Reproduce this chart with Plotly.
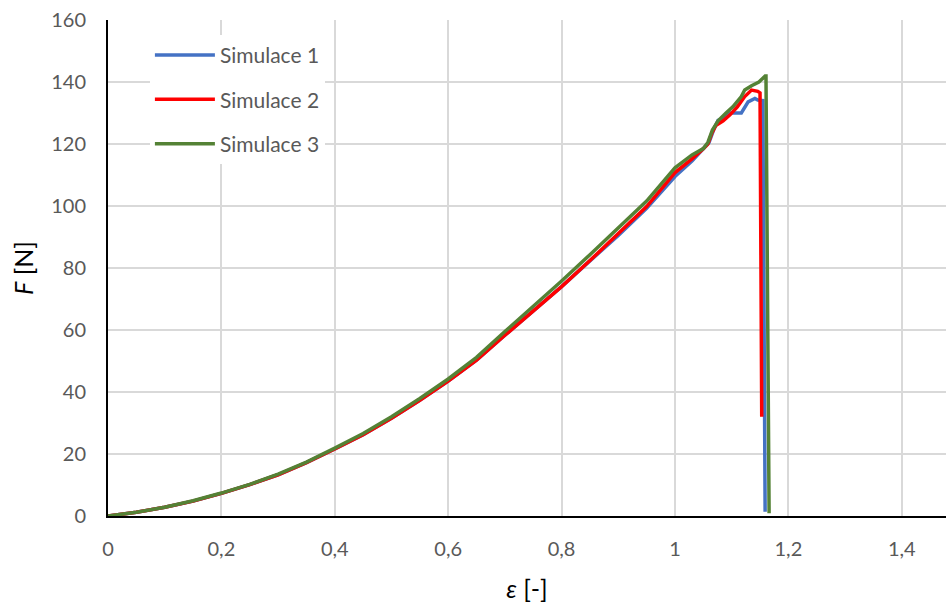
import plotly.graph_objects as go

# Simulace 1 (blue)
x1 = [0, 0.05, 0.1, 0.15, 0.2, 0.25, 0.3, 0.35, 0.4, 0.45, 0.5, 0.55, 0.6, 0.65, 0.7, 0.75,
      0.8, 0.85, 0.9, 0.95, 1.0, 1.03, 1.05, 1.06, 1.068, 1.076, 1.088, 1.097, 1.117, 1.129,
      1.141, 1.146, 1.155, 1.159]
y1 = [0, 1.2, 2.8, 4.8, 7.3, 10.1, 13.3, 17.2, 21.6, 26.2, 31.5, 37.3, 43.5, 50.3, 58.3, 66.2,
      74.0, 82.3, 90.5, 99.3, 109.5, 114.5, 118.5, 120.5, 124.5, 127.6, 128.5, 130.0, 130.0, 133.6,
      134.7, 134.2, 134.0, 1.4]

# Simulace 2 (red)
x2 = [0, 0.05, 0.1, 0.15, 0.2, 0.25, 0.3, 0.35, 0.4, 0.45, 0.5, 0.55, 0.6, 0.65, 0.7, 0.75,
      0.8, 0.85, 0.9, 0.95, 1.0, 1.03, 1.05, 1.058, 1.065, 1.072, 1.085, 1.097, 1.11, 1.123,
      1.135, 1.146, 1.150, 1.153]
y2 = [0, 1.2, 2.8, 4.8, 7.3, 10.1, 13.3, 17.2, 21.6, 26.2, 31.5, 37.3, 43.5, 50.3, 58.3, 66.2,
      74.0, 82.4, 91.0, 99.8, 110.8, 115.2, 118.5, 120.0, 123.5, 126.0, 127.5, 129.4, 132.0, 135.3,
      137.4, 137.0, 136.5, 32.0]

# Simulace 3 (green)
x3 = [0, 0.05, 0.1, 0.15, 0.2, 0.25, 0.3, 0.35, 0.4, 0.45, 0.5, 0.55, 0.6, 0.65, 0.7, 0.75,
      0.8, 0.85, 0.9, 0.95, 1.0, 1.03, 1.05, 1.058, 1.066, 1.076, 1.09, 1.102, 1.117, 1.123,
      1.135, 1.148, 1.159, 1.1605, 1.166]
y3 = [0, 1.2, 2.8, 4.9, 7.4, 10.2, 13.5, 17.4, 21.9, 26.6, 32.0, 37.9, 44.2, 51.2, 59.5, 67.6,
      75.8, 84.3, 92.8, 101.6, 112.3, 116.5, 118.5, 120.5, 124.5, 127.5, 130.0, 132.0, 135.3, 137.4,
      138.8, 140.0, 141.9, 141.9, 0.9]

names = ["Simulace 1", "Simulace 2", "Simulace 3"]
colors = ["#4472C4", "#FF0000", "#548235"]
xs = [x1, x2, x3]
ys = [y1, y2, y3]

x_ticks = [0, 0.2, 0.4, 0.6, 0.8, 1.0, 1.2, 1.4]
y_ticks = [0, 20, 40, 60, 80, 100, 120, 140, 160]

fig = go.Figure()
for i in range(3):
    fig.add_trace(go.Scatter(
        x=xs[i], y=ys[i], mode="lines", name=names[i],
        legendgroup=f"g{i}",
        line=dict(color=colors[i], width=3.5),
    ))

font_family = "Lato, 'Open Sans', sans-serif"
fig.update_layout(
    width=946, height=603,
    margin=dict(l=108, r=0, t=20, b=87),
    paper_bgcolor="white", plot_bgcolor="white",
    separators=", ",
    font=dict(family=font_family, size=20, color="#595959"),
    showlegend=True,
    legend=dict(
        x=0.05, y=0.97, xanchor="left", yanchor="top",
        bgcolor="white", borderwidth=0,
        font=dict(family=font_family, size=21, color="#595959"),
        tracegroupgap=14,
        itemwidth=60,
    ),
    xaxis=dict(
        range=[0, 1.478], tickvals=x_ticks,
        showgrid=True, gridcolor="#d9d9d9", gridwidth=2,
        showline=True, linecolor="black", linewidth=2,
        zeroline=False, ticks="", ticklen=0,
        ticklabelstandoff=14,
        tickfont=dict(size=20, color="#595959"),
        title=dict(text="<i>ε</i> [-]", font=dict(size=25, color="#000000"), standoff=21),
    ),
    yaxis=dict(
        range=[0, 160], tickvals=y_ticks,
        showgrid=True, gridcolor="#d9d9d9", gridwidth=2,
        showline=True, linecolor="black", linewidth=2,
        zeroline=False, ticks="", ticklen=0,
        ticklabelstandoff=16,
        tickfont=dict(size=20, color="#595959"),
        title=dict(text="<i>F</i> [N]", font=dict(size=25, color="#000000"), standoff=10),
    ),
)

fig.write_html("out.html")
